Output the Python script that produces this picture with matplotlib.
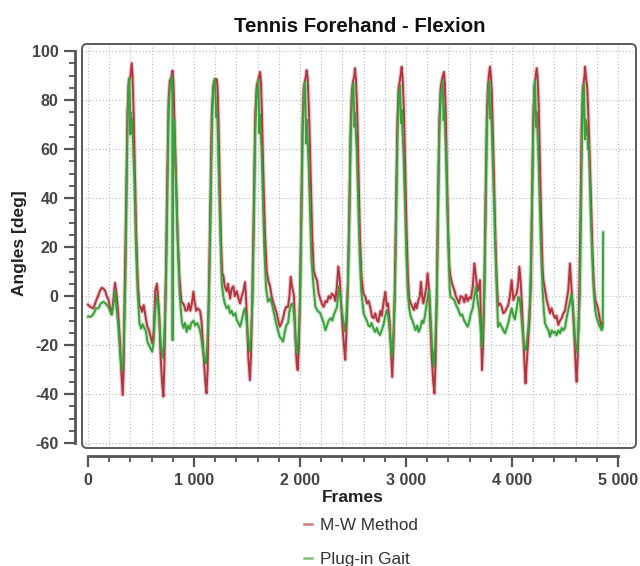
import matplotlib
matplotlib.use("Agg")
import matplotlib.pyplot as plt
from matplotlib.patches import FancyBboxPatch
from matplotlib.lines import Line2D
from matplotlib.ticker import MultipleLocator

title = "Tennis Forehand - Flexion"
x_label = "Frames"
y_label = "Angles [deg]"
series_names = ["M-W Method", "Plug-in Gait"]
series_colors = ["#b03640", "#3b9f3b"]
x_ticks = [0, 1000, 2000, 3000, 4000, 5000]
x_tick_labels = ["0", "1 000", "2 000", "3 000", "4 000", "5 000"]
y_ticks = [-60, -40, -20, 0, 20, 40, 60, 80, 100]
y_tick_labels = ["-60", "-40", "-20", "0", "20", "40", "60", "80", "100"]

# M-W Method (frame, angle)
mw_points = [
    (0, -3.5), (25, -4.5), (50, -5), (75, -2), (97, 0.3), (115, 2.5), (129, 3.4), (145, 3),
    (160, 2.3), (176, 0), (192, -1.4), (208, -5), (223, -7.5), (238, -2), (255, 5.4), (262, 3),
    (270, 0.4), (286, -8), (302, -19.3), (315, -32), (327, -40.4), (336, -30),
    (345, 0), (360, 40), (372, 75), (385, 88), (398, 89), (405, 92), (412, 95), (420, 90),
    (430, 75), (440, 55), (455, 25), (470, 5), (485, -4.5),
    (497, -4.4), (510, -6.4), (525, -3.7), (545, -9.1), (560, -12.5), (575, -13.9), (590, -16.6),
    (606, -19.3), (620, -13.9), (635, 2.4), (650, 5), (660, 0), (672, -8), (685, -25), (700, -36),
    (711, -41), (720, -28),
    (735, 10), (748, 50), (760, 80), (772, 88), (785, 89), (792, 91), (797, 92), (805, 88),
    (815, 72), (828, 50), (845, 25), (862, 8), (880, -2),
    (906, -3.7), (920, -6), (937, -5.7), (950, -3), (965, -6), (980, -3), (994, 1.8), (1005, -2),
    (1020, -6), (1035, -5), (1057, -6), (1070, -10), (1085, -20), (1100, -31), (1110, -37),
    (1118, -39.7), (1128, -30),
    (1140, 0), (1155, 40), (1168, 75), (1182, 86), (1195, 88), (1206, 88.5), (1214, 88.5),
    (1222, 85), (1232, 70), (1243, 45), (1255, 22), (1266, 9.4), (1277, 8.3),
    (1290, 4), (1308, 2), (1320, 5), (1340, -1), (1355, 3), (1371, 4), (1385, 0), (1403, 2),
    (1420, -1), (1434, -3), (1450, 0), (1465, 2), (1481, 5.7), (1490, 0), (1500, -10),
    (1512, -25), (1527, -34.3), (1537, -25),
    (1550, 0), (1565, 40), (1578, 75), (1592, 86), (1605, 88), (1615, 90), (1623, 91.5),
    (1632, 87), (1642, 72), (1655, 48), (1670, 25), (1686, 10),
    (1700, 6.5), (1717, 4), (1733, -0.3), (1750, -3), (1765, -5), (1780, -7), (1795, -10),
    (1808, -12.5), (1825, -11), (1840, -9), (1855, -6), (1870, -4.4), (1887, -4.4), (1900, 0),
    (1912, 7.9), (1925, 4), (1943, 0), (1955, -15), (1968, -27.5), (1978, -30.2), (1990, -20),
    (2000, 0), (2012, 35), (2024, 70), (2035, 85), (2048, 88), (2056, 90), (2063, 92.2),
    (2072, 89), (2085, 75), (2100, 50), (2115, 25), (2129, 10.6),
    (2145, 8), (2160, 6.5), (2176, 1.1), (2190, -1), (2205, -3), (2223, -4.4), (2240, -2),
    (2255, -2.5), (2270, 0), (2286, -1), (2300, 1), (2318, 0.4), (2333, -2), (2348, 4),
    (2361, 12), (2375, 7), (2390, -5), (2405, -15), (2418, -22), (2427, -26), (2437, -15),
    (2452, 5), (2465, 35), (2478, 70), (2490, 84), (2502, 88), (2512, 90), (2519, 93),
    (2528, 88), (2540, 75), (2552, 50), (2565, 25), (2580, 8), (2597, 1.2),
    (2616, -0.3), (2632, -3), (2648, -2), (2665, -5), (2679, -8.4), (2695, -9), (2710, -7),
    (2726, -9.8), (2740, -10.5), (2758, -6), (2772, -8), (2790, -2), (2805, 1.8), (2818, -4),
    (2830, -3), (2845, -10), (2858, -22), (2870, -33), (2880, -22),
    (2893, 0), (2905, 35), (2918, 70), (2930, 85), (2942, 88), (2952, 91), (2959, 93.6),
    (2968, 89), (2980, 76), (2992, 52), (3005, 28), (3018, 8), (3030, -1),
    (3045, -3), (3060, -4.4), (3075, -5.7), (3090, -3), (3101, -5), (3115, -2), (3130, 0),
    (3141, 5.8), (3152, 0), (3164, -3), (3175, -0.3), (3190, 3), (3204, 9.3), (3215, 4),
    (3228, -10), (3243, -25), (3257, -35), (3268, -39.7), (3278, -28),
    (3290, 0), (3302, 40), (3315, 72), (3327, 85), (3338, 88), (3348, 90), (3358, 91.5),
    (3366, 87), (3375, 75), (3385, 52), (3397, 28), (3409, 12), (3420, 7.9),
    (3435, 5), (3456, 2.4), (3470, 0), (3487, -1.6), (3500, -3), (3515, 0), (3535, -0.5),
    (3550, -2.5), (3565, 0.5), (3582, -2), (3598, -0.5), (3613, -1), (3630, 4), (3645, 13.3),
    (3660, 7.9), (3675, 2), (3688, 4), (3698, 6.5), (3706, -10), (3717, -30.2), (3727, -20),
    (3738, 0), (3750, 38), (3762, 72), (3772, 85), (3782, 90), (3792, 93.6), (3800, 90),
    (3808, 85), (3818, 70), (3830, 48), (3843, 25), (3855, 8), (3868, -4),
    (3887, -3), (3903, -4.4), (3918, -7), (3934, -6.4), (3950, -5), (3965, -3.5), (3980, 0),
    (3997, 6.5), (4013, -1.6), (4028, 0), (4044, 1), (4058, 5), (4069, 12), (4082, 6),
    (4095, -5), (4108, -18), (4120, -30), (4128, -35.6), (4138, -28),
    (4150, -20), (4165, -10), (4178, 5), (4190, 40), (4200, 70), (4210, 85), (4222, 89),
    (4233, 93), (4242, 89), (4252, 78), (4262, 58), (4275, 32), (4288, 12), (4296, 6.5),
    (4310, 3), (4327, -1.6), (4342, -4), (4358, -7), (4374, -5), (4390, -7.5), (4405, -9),
    (4420, -8), (4437, -11.8), (4452, -10), (4469, -9), (4485, -7), (4500, -6), (4515, -2),
    (4531, 2.4), (4547, 13.3), (4563, 2.4), (4578, -8), (4592, -20), (4602, -30), (4610, -35),
    (4620, -25),
    (4632, -5), (4645, 30), (4657, 68), (4667, 84), (4678, 88), (4684, 90), (4689, 93.6),
    (4697, 90), (4710, 85), (4722, 72), (4735, 55), (4748, 35), (4760, 18), (4772, 5),
    (4785, -1.6), (4800, -3.5), (4814, -5.7), (4830, -9.8), (4846, -12.5), (4852, -11),
]

# Plug-in Gait (frame, angle)
pig_points = [
    (0, -8.4), (30, -8.4), (55, -7), (75, -5), (97, -5), (120, -3), (145, -2.3), (165, -3),
    (192, -4.4), (208, -6), (223, -7.5), (240, -3), (255, 2.4), (265, -3), (286, -12.5),
    (305, -25), (318, -30.2), (330, -28), (340, -15),
    (352, 5), (362, 35), (372, 70), (382, 86), (390, 89), (395, 80), (400, 66), (406, 75),
    (412, 67), (418, 72), (425, 62), (438, 45), (452, 20), (468, 2), (485, -11),
    (500, -13.2), (515, -11.5), (530, -13), (545, -14), (560, -18.6), (575, -20), (590, -21.4),
    (606, -22.7), (620, -18), (635, -4.4), (650, 0.4), (662, -4), (675, -12), (690, -22),
    (705, -25.3), (715, -20),
    (725, -10), (737, 8), (748, 40), (760, 74), (770, 84), (780, 87), (790, 90), (795, 82),
    (798, -18), (801, 70), (806, 64), (812, 72), (818, 62), (830, 45), (848, 20), (865, 0),
    (885, -10.5),
    (900, -13), (915, -11), (930, -14.6), (945, -12), (960, -13.5), (975, -11), (995, -10),
    (1010, -12), (1030, -11), (1050, -13), (1065, -16), (1080, -21), (1098, -26), (1112, -27.5),
    (1125, -20),
    (1140, -2), (1155, 30), (1168, 68), (1180, 84), (1190, 88), (1198, 88.8), (1204, 80),
    (1210, 73), (1216, 78), (1222, 70), (1233, 50), (1248, 25), (1262, 5), (1277, -0.3),
    (1290, -3), (1308, -5), (1325, -4), (1340, -7), (1355, -6), (1371, -8), (1390, -7),
    (1403, -9.8), (1420, -11), (1434, -12.5), (1450, -10), (1470, -6), (1481, -5), (1495, -10),
    (1510, -18), (1525, -22.7), (1538, -15),
    (1552, -2), (1565, 30), (1578, 68), (1593, 84), (1607, 88.2), (1612, 78), (1617, 66.5),
    (1623, 74), (1629, 67), (1637, 60), (1648, 42), (1662, 20), (1680, 3), (1698, -2.3),
    (1717, -1), (1735, -3), (1761, -8.4), (1780, -12), (1795, -14.5), (1808, -16.6),
    (1825, -17.5), (1840, -18.6), (1855, -15), (1870, -12), (1887, -11), (1900, -6),
    (1918, -3.3), (1935, -3), (1950, -12), (1965, -22), (1975, -23.4), (1988, -15),
    (2000, -3), (2012, 28), (2024, 65), (2037, 84), (2047, 87.5), (2053, 76), (2058, 62.3),
    (2064, 72), (2070, 65), (2080, 55), (2094, 35), (2108, 15), (2125, 5.2),
    (2145, -4.4), (2165, -6), (2192, -7), (2208, -9), (2223, -11), (2239, -13.9), (2255, -12),
    (2270, -10), (2290, -9), (2305, -10), (2318, -7.8), (2335, -6), (2349, -4.4), (2365, 3.8),
    (2380, 0), (2395, -6), (2410, -11), (2425, -14.5), (2437, -8),
    (2452, 5), (2465, 30), (2478, 65), (2490, 82), (2503, 86.8), (2509, 78), (2514, 69),
    (2520, 75), (2526, 67), (2536, 58), (2549, 38), (2562, 18), (2578, 2), (2600, -7),
    (2613, -8.4), (2630, -10), (2645, -12), (2660, -12.5), (2675, -11), (2690, -13),
    (2708, -14.6), (2725, -13), (2740, -15), (2755, -15.9), (2770, -14), (2786, -12),
    (2800, -9), (2818, -5.7), (2832, -8), (2848, -15), (2862, -23), (2870, -24.8), (2882, -15),
    (2895, 0), (2907, 30), (2920, 66), (2932, 82), (2943, 86.1), (2949, 78), (2954, 70.6),
    (2960, 76), (2966, 68), (2976, 58), (2990, 38), (3002, 18), (3016, 2), (3030, -5),
    (3045, -8.4), (3060, -10), (3075, -12), (3090, -13.9), (3105, -12), (3120, -14.6),
    (3135, -13), (3150, -10), (3165, -11), (3179, -8), (3195, -3), (3210, 1.1), (3220, 2.4),
    (3232, -8), (3245, -20), (3260, -28.9), (3275, -20),
    (3290, -2), (3302, 32), (3315, 68), (3328, 82), (3340, 86), (3346, 88.2), (3351, 78),
    (3355, 71.8), (3361, 77), (3367, 70), (3375, 60), (3387, 40), (3400, 20), (3412, 3),
    (3420, -0.3),
    (3440, -1), (3456, -1.6), (3475, -4), (3490, -5), (3500, -6.4), (3515, -8), (3530, -7.5),
    (3547, -9.8), (3562, -11), (3582, -12.5), (3598, -10), (3613, -7), (3629, -5), (3645, 0),
    (3660, 3.8), (3675, -2), (3690, -6), (3702, -12), (3715, -21), (3728, -12),
    (3740, 3), (3752, 35), (3764, 70), (3775, 84), (3786, 87.5), (3791, 78), (3796, 72.5),
    (3802, 78), (3808, 70), (3816, 60), (3828, 42), (3842, 20), (3856, 2), (3868, -12.5),
    (3885, -11), (3903, -12.5), (3918, -14), (3934, -15.2), (3950, -13), (3965, -11),
    (3980, -8), (3997, -5), (4013, -8), (4028, -9.5), (4045, -5), (4060, -0.3), (4072, -1),
    (4088, -8), (4103, -16), (4118, -21.4), (4130, -22), (4142, -18),
    (4155, -12), (4168, -3), (4180, 15), (4192, 45), (4203, 75), (4211, 85), (4217, 88.2),
    (4222, 78), (4228, 69), (4234, 75), (4240, 67), (4248, 58), (4260, 40), (4273, 20),
    (4288, 3), (4300, -5.7),
    (4311, -11), (4330, -13), (4345, -14), (4358, -16.6), (4375, -14), (4390, -15),
    (4406, -14.5), (4420, -16), (4437, -14), (4453, -15.2), (4470, -13), (4485, -14),
    (4500, -13), (4515, -9), (4531, -5.7), (4548, -2), (4563, 1.1), (4575, -4), (4590, -14),
    (4604, -22), (4615, -23), (4628, -12),
    (4640, 0), (4650, 30), (4660, 66), (4670, 82), (4679, 86.8), (4684, 75), (4688, 64),
    (4694, 72), (4700, 66), (4708, 70), (4716, 60), (4724, 62), (4733, 48), (4745, 30),
    (4758, 15), (4770, 3), (4785, -5.7),
    (4800, -9), (4815, -11), (4830, -12.5), (4846, -13.9), (4856, -13), (4860, 26),
]

W, H = 640, 566
fig = plt.figure(figsize=(W / 100, H / 100), dpi=100)
fig.patch.set_facecolor("white")

ax_l, ax_r, ax_t, ax_b = 82, 636, 44, 448
ax = fig.add_axes([ax_l / W, 1 - ax_b / H, (ax_r - ax_l) / W, (ax_b - ax_t) / H])
ax.set_facecolor("white")

series = [mw_points, pig_points]
halo_colors = ["#e6a3a8", "#a6dba6"]
for pts, col, hcol in zip(series, series_colors, halo_colors):
    xs, ys = zip(*pts)
    ax.plot(xs, ys, color=hcol, lw=3.0, alpha=0.6, solid_joinstyle="round", zorder=3)
    ax.plot(xs, ys, color=col, lw=1.4, solid_joinstyle="round", zorder=4)

ax.set_xlim(-57, 5170)
ax.set_ylim(-62, 102.9)

ax.set_xticks(x_ticks)
ax.set_xticklabels(x_tick_labels)
ax.set_yticks(y_ticks)
ax.set_yticklabels(y_tick_labels)
ax.xaxis.set_minor_locator(MultipleLocator(200))
ax.yaxis.set_minor_locator(MultipleLocator(5))

grid_kw = dict(color="#b8b8b8", linestyle=(0, (1, 2)), linewidth=0.8)
ax.grid(which="both", axis="x", **grid_kw)
ax.grid(which="major", axis="y", **grid_kw)
ax.set_axisbelow(True)

for s in ["top", "right"]:
    ax.spines[s].set_visible(False)
ax.spines["left"].set_position(("outward", 5))
ax.spines["left"].set_bounds(-60, 100)
ax.spines["bottom"].set_position(("outward", 6))
ax.spines["bottom"].set_bounds(0, 5000)
for s in ["left", "bottom"]:
    ax.spines[s].set_linewidth(2.0)
    ax.spines[s].set_color("#555555")

tick_font = dict(family="Liberation Sans", weight="bold", size=11.5)
ax.tick_params(which="major", length=8, width=1.6, color="#555555", labelcolor="#444444", pad=4)
ax.tick_params(which="minor", length=4, width=1.3, color="#555555")
for lab in ax.get_xticklabels() + ax.get_yticklabels():
    lab.set_fontfamily(tick_font["family"])
    lab.set_fontweight(tick_font["weight"])
    lab.set_fontsize(tick_font["size"])

# rounded plot frame
box = FancyBboxPatch((ax_l / W, 1 - ax_b / H), (ax_r - ax_l) / W, (ax_b - ax_t) / H,
                     boxstyle="round,pad=0,rounding_size=0.008", mutation_aspect=W / H,
                     transform=fig.transFigure, fill=False, ec="#5a5a5a", lw=1.4, zorder=10)
fig.add_artist(box)

fig.text(360 / W, 1 - 32 / H, title, ha="center", va="baseline",
         fontsize=14.7, fontweight="bold", family="Liberation Sans", color="#111111")
fig.text(20 / W, 1 - 243 / H, y_label, ha="center", va="center", rotation=90,
         fontsize=12.5, fontweight="bold", family="Liberation Sans", color="#222222")
fig.text(353 / W, 1 - 502 / H, x_label, ha="center", va="baseline",
         fontsize=12.5, fontweight="bold", family="Liberation Sans", color="#222222")

handles = [Line2D([], [], color=c, lw=1.8) for c in ["#d07a80", "#7cc27c"]]
leg = fig.legend(handles, series_names, loc="upper left",
                 bbox_to_anchor=(304 / W, 1 - 518 / H), bbox_transform=fig.transFigure,
                 frameon=False, handlelength=0.45, handletextpad=0.5, labelspacing=1.1,
                 borderpad=0, borderaxespad=0,
                 prop=dict(family="Liberation Sans", size=12.3))
for t in leg.get_texts():
    t.set_color("#333333")

fig.savefig("out.png", dpi=100, facecolor="white")
